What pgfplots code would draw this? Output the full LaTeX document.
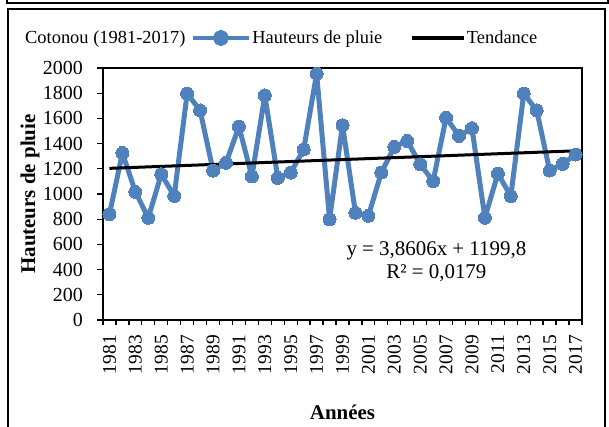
\documentclass[border=0pt]{standalone}
\usepackage{pgfplots}
\pgfplotsset{compat=1.18}
\usepackage{fontspec}
\setmainfont{Liberation Serif}
\definecolor{exblue}{HTML}{4F81BD}
\begin{document}
\begin{tikzpicture}[x=1bp,y=1bp]
\useasboundingbox (0,0) rectangle (609,426);
\draw[line width=1.2bp] (7,426) -- (7,423) -- (608,423) -- (608,426);
\draw[line width=1.5bp] (8,-2) -- (8,417) -- (605,417) -- (605,-2);
\begin{axis}[
  at={(103bp,106bp)}, anchor=south west,
  scale only axis, width=479bp, height=252bp,
  xmin=1980.5, xmax=2017.5, ymin=0, ymax=2000,
  axis line style={line width=1.6bp},
  xtick={1981,1983,...,2017},
  xticklabels={1981,1983,1985,1987,1989,1991,1993,1995,1997,1999,2001,2003,2005,2007,2009,2011,2013,2015,2017},
  major x tick style={draw=none},
  minor xtick={1980.5,1981.5,...,2017.5},
  minor tick length=5bp,
  minor x tick style={line width=1.3bp, black},
  ytick={0,200,...,2000},
  yticklabels={0,200,400,600,800,1000,1200,1400,1600,1800,2000},
  major tick length=6bp,
  y tick style={line width=1.3bp, black},
  tick align=outside,
  xtick pos=bottom, ytick pos=left,
  xticklabel style={font=\fontsize{19.5}{21}\selectfont, rotate=90, anchor=east, inner sep=0pt, xshift=-9bp},
  yticklabel style={font=\fontsize{20}{22}\selectfont, anchor=east, inner sep=0pt, xshift=-14bp},
  xlabel={\textbf{Années}},
  ylabel={\textbf{Hauteurs de pluie}},
  label style={font=\fontsize{21}{24}\selectfont},
  xlabel style={at={(axis description cs:0.5,-0.365)}, anchor=center},
  ylabel style={at={(axis description cs:-0.152,0.5)}, anchor=center, rotate=0},
  legend columns=3,
  legend style={draw=none, fill=none, inner sep=0pt,
    at={(axis description cs:-0.166,1.119)}, anchor=west,
    font=\fontsize{18.5}{20}\selectfont,
    nodes={inner sep=1.5bp},
    /tikz/every even column/.append style={column sep=4bp}},
  clip=false,
]
\addlegendimage{empty legend}
\addlegendentry{Cotonou (1981-2017)}
\addplot[color=exblue, line width=5bp, line join=round, mark=*, mark size=6.5bp,
  mark options={fill=exblue, draw=exblue, line width=0pt},
  legend image code/.code={
    \draw[exblue, line width=4bp] (0bp,0bp) -- (56bp,0bp);
    \fill[exblue] (28bp,0bp) circle (5.5bp);}]
  table {
1981 840
1982 1326
1983 1017
1984 811
1985 1157
1986 985
1987 1797
1988 1664
1989 1186
1990 1247
1991 1535
1992 1139
1993 1783
1994 1128
1995 1170
1996 1353
1997 1955
1998 798
1999 1546
2000 851
2001 827
2002 1170
2003 1374
2004 1421
2005 1236
2006 1102
2007 1606
2008 1461
2009 1522
2010 811
2011 1162
2012 983
2013 1797
2014 1664
2015 1186
2016 1239
2017 1313
};
\addlegendentry{Hauteurs de pluie\rule{22bp}{0pt}}
\addplot[black, line width=3bp, no marks,
  legend image code/.code={\draw[black, line width=3.5bp] (0bp,0bp) -- (52bp,0bp);}]
  coordinates {(1981,1203.66) (2017,1342.64)};
\addlegendentry{Tendance}
\node[font=\fontsize{21}{23}\selectfont, align=center] at (axis description cs:0.696,0.232)
  {y = 3,8606x + 1199,8\\R² = 0,0179};
\end{axis}
\end{tikzpicture}
\end{document}
